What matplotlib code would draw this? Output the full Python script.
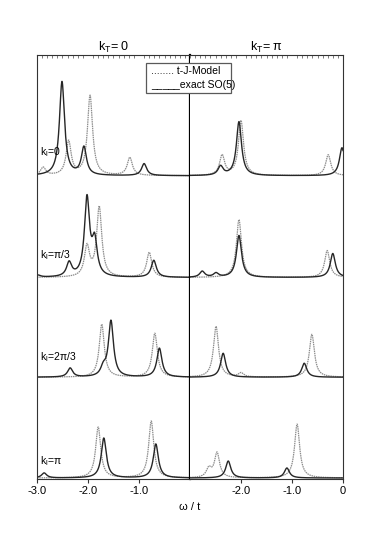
import numpy as np
import matplotlib
matplotlib.use("Agg")
import matplotlib.pyplot as plt

plt.rcParams['font.family'] = ['Liberation Sans', 'DejaVu Sans']
plt.rcParams['mathtext.fontset'] = 'custom'
plt.rcParams['mathtext.rm'] = 'Liberation Sans'
plt.rcParams['mathtext.it'] = 'Liberation Sans'

# spectra: peak positions (omega/t) and peak heights (arb. units)
kl_labels = ["k$_{\\mathrm{l}}$=0", "k$_{\\mathrm{l}}$=π/3", "k$_{\\mathrm{l}}$=2π/3", "k$_{\\mathrm{l}}$=π"]

# k_T = 0
tj_pos_0 = [[-2.88, -2.38, -1.96, -1.18],
            [-2.02, -1.78, -0.80],
            [-1.73, -0.69],
            [-1.80, -0.76]]
tj_amp_0 = [[8, 34, 80, 18],
            [30, 70, 25],
            [53, 44],
            [51, 57]]
so5_pos_0 = [[-2.51, -2.08, -0.90],
             [-2.98, -2.37, -2.02, -1.87, -0.71],
             [-2.35, -1.70, -1.55, -0.60],
             [-2.86, -1.69, -0.67]]
so5_amp_0 = [[94, 28, 12],
             [2, 14, 78, 34, 17],
             [9, 8, 56, 29],
             [5, 40, 34]]

# k_T = pi
tj_pos_pi = [[-2.37, -2.00, -0.29],
             [-2.04, -0.31],
             [-2.49, -2.00, -0.61],
             [-2.63, -2.47, -0.90]]
tj_amp_pi = [[20, 55, 21],
             [58, 27],
             [51, 4, 43],
             [9, 25, 54]]
so5_pos_pi = [[-2.40, -2.04, -0.02],
              [-2.76, -2.49, -2.04, -0.20],
              [-2.35, -0.76],
              [-2.25, -1.10]]
so5_amp_pi = [[9, 54, 28],
              [6, 4, 42, 24],
              [24, 14],
              [17, 10]]

gamma = 0.06
offsets = [303, 201, 101, 0]


def spectrum(w, pos, amp):
    s = np.zeros_like(w)
    for p, a in zip(pos, amp):
        s += a * gamma**2 / ((w - p)**2 + gamma**2)
    return s


w = np.linspace(-3, 0, 1500)

fig = plt.figure(figsize=(3.82, 5.49), dpi=100)
axL = fig.add_axes([37/382, 1 - 479/549, 153/382, 424/549])
axR = fig.add_axes([190/382, 1 - 479/549, 153/382, 424/549])

panels = [(axL, tj_pos_0, tj_amp_0, so5_pos_0, so5_amp_0),
          (axR, tj_pos_pi, tj_amp_pi, so5_pos_pi, so5_amp_pi)]

for ax, tp, ta, sp, sa in panels:
    for i in range(4):
        ax.plot(w, offsets[i] + spectrum(w, tp[i], ta[i]), color='0.55',
                lw=0.9, ls=(0, (1.2, 0.6)))
        ax.plot(w, offsets[i] + spectrum(w, sp[i], sa[i]), color='0.15', lw=1.0)
    ax.set_xlim(-3, 0)
    ax.set_ylim(-1, 424)
    ax.set_yticks([])
    for s in ax.spines.values():
        s.set_linewidth(0.8)
        s.set_color('0.2')
    ax.tick_params(axis='x', which='major', direction='out', length=3,
                   labelsize=8, pad=2, color='0.2')
    ax.set_xticks(np.arange(-3, 0.01, 0.1), minor=True)
    ax.tick_params(axis='x', which='minor', direction='in', length=2.5,
                   top=True, bottom=False, color='0.4', width=0.6)

axL.set_xticks([-3, -2, -1])
axL.set_xticklabels(["-3.0", "-2.0", "-1.0"])
axR.set_xticks([-2, -1, 0])
axR.set_xticklabels(["-2.0", "-1.0", "0"])
axL.spines['right'].set_linewidth(1.6)
axL.spines['right'].set_color('black')
axR.spines['left'].set_visible(False)

axL.set_title("k$_{\\mathrm{T}}$= 0", fontsize=9, pad=3)
axR.set_title("k$_{\\mathrm{T}}$= π", fontsize=9, pad=3)

label_y = [327, 223, 121, 17]
for lab, y in zip(kl_labels, label_y):
    axL.text(-2.94, y, lab, fontsize=7.5, va='center', ha='left')

fig.text(190/382, 1 - 507/549, "ω / t", fontsize=8, ha='center', va='center')

# legend box
fig.text(151/382, 1 - 71/549, "........ t-J-Model", fontsize=7.5, va='center', ha='left')
fig.text(151/382, 1 - 85/549, "_____exact SO(5)", fontsize=7.5, va='center', ha='left')
box = plt.Rectangle((146/382, 1 - 93/549), 85/382, 30/549, transform=fig.transFigure,
                    fill=True, facecolor='white', edgecolor='0.35', lw=0.9, zorder=0)
fig.patches.append(box)

fig.savefig("out.png", dpi=100)
